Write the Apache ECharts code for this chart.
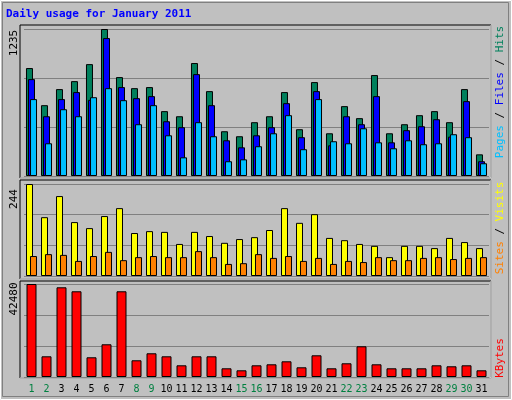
<!DOCTYPE html>
<html><head><meta charset="utf-8">
<script src="https://cdn.jsdelivr.net/npm/echarts@6/dist/echarts.min.js"></script>
<style>html,body{margin:0;padding:0;background:#c0c0c0}#c{width:512px;height:400px}</style>
</head><body><div id="c"></div>
<script>
const days = ['1','2','3','4','5','6','7','8','9','10','11','12','13','14','15','16','17','18','19','20','21','22','23','24','25','26','27','28','29','30','31'];
const weekends = ['1','2','8','9','15','16','22','23','29','30'];
const hits = [907,595,730,797,940,1235,831,738,747,545,502,949,713,376,334,452,502,705,393,789,359,587,486,848,359,435,511,545,452,730,182];
const files = [814,502,646,705,640,1159,747,654,671,460,410,856,595,300,241,342,410,612,326,713,258,502,435,671,283,385,418,477,331,629,124];
const pages = [646,275,561,502,662,738,637,435,595,342,157,452,334,124,140,250,359,511,225,646,292,275,401,283,233,300,267,275,351,326,107];
const visits = [244,156,212,143,127,159,180,114,119,117,85,117,106,88,98,103,122,180,141,164,101,95,85,80,50,80,80,74,101,90,74];
const sites = [53,58,56,40,53,64,42,50,53,50,50,66,50,32,34,58,48,53,40,48,32,40,37,50,42,42,48,50,45,48,50];
const kbytes = [42480,9450,40970,39150,9000,14940,39150,7630,10830,9450,5340,9450,9450,3970,3060,5340,5800,7170,4430,9910,3970,6260,14020,5800,3970,3970,3970,5340,4890,5340,3060];
const maxLabels = [1235,244,42480];

const F = 'DejaVu Sans Mono';
const ch = echarts.init(document.getElementById('c'));
const L = 24, W = 465;
const grids = [{left:L,width:W,top:29,height:147},{left:L,width:W,top:184,height:92},{left:L,width:W,top:284,height:93}];
function xa(i){return {type:'category',gridIndex:i,data:days,boundaryGap:true,axisLine:{show:false},axisTick:{show:false},
  axisLabel:{show:i===2,interval:0,margin:7,fontFamily:F,fontSize:10,color:v=>weekends.includes(v)?'#008040':'#000'}};}
function ya(i){return {type:'value',gridIndex:i,min:0,max:maxLabels[i],interval:maxLabels[i]/3,axisLabel:{show:false},axisLine:{show:false},axisTick:{show:false},
  splitLine:{show:true,lineStyle:{color:'#808080',width:1}}};}
const bs = c=>({color:c,borderColor:'#000',borderWidth:1});
function panel(y,h){return [{type:'rect',shape:{x:20,y:y,width:471,height:h},style:{fill:'#c0c0c0',stroke:'#000',lineWidth:1},z:-10,silent:true},
  {type:'polyline',shape:{points:[[20,y+h],[491,y+h],[491,y]]},style:{stroke:'#fff',lineWidth:1,fill:null},z:-9}];}
function vtext(x,y,parts){
  return {type:'text',x:x,y:y,rotation:Math.PI/2,z:10,style:{text:parts.map((p,k)=>'{s'+k+'|'+p[0]+'}').join(''),
    rich:Object.fromEntries(parts.map((p,k)=>['s'+k,{fill:p[1],fontFamily:F,fontSize:11}])),align:'center',verticalAlign:'middle'}};
}
ch.setOption({
  backgroundColor:'#c0c0c0',animation:false,
  grid:grids,
  xAxis:[xa(0),xa(1),xa(2)],
  yAxis:[ya(0),ya(1),ya(2)],
  series:[
    {type:'bar',xAxisIndex:0,yAxisIndex:0,data:hits,barWidth:7,barGap:'-71%',itemStyle:bs('#00805c')},
    {type:'bar',xAxisIndex:0,yAxisIndex:0,data:files,barWidth:7,barGap:'-71%',itemStyle:bs('#0000ff')},
    {type:'bar',xAxisIndex:0,yAxisIndex:0,data:pages,barWidth:7,barGap:'-71%',itemStyle:bs('#00c0ff')},
    {type:'bar',xAxisIndex:1,yAxisIndex:1,data:visits,barWidth:7,barGap:'-43%',itemStyle:bs('#ffff00')},
    {type:'bar',xAxisIndex:1,yAxisIndex:1,data:sites,barWidth:7,barGap:'-43%',itemStyle:bs('#ff8000')},
    {type:'bar',xAxisIndex:2,yAxisIndex:2,data:kbytes,barWidth:10,itemStyle:bs('#ff0000')}
  ],
  graphic:[
    {type:'rect',shape:{x:0.5,y:0.5,width:511,height:399},style:{fill:null,stroke:'#fff',lineWidth:1},z:-20},
    {type:'rect',shape:{x:2.5,y:2.5,width:506,height:394},style:{fill:null,stroke:'#808080',lineWidth:1},z:-20},
    ...panel(25,153),...panel(180,99),...panel(281,97),
    {type:'text',x:6,y:9,style:{text:'Daily usage for January 2011',fill:'#0000ff',fontFamily:F,fontWeight:'bold',fontSize:11}},
    {type:'text',x:14,y:43,rotation:Math.PI/2,style:{text:String(maxLabels[0]),fill:'#000',fontFamily:F,fontSize:11,align:'center',verticalAlign:'middle'}},
    {type:'text',x:14,y:199,rotation:Math.PI/2,style:{text:String(maxLabels[1]),fill:'#000',fontFamily:F,fontSize:11,align:'center',verticalAlign:'middle'}},
    {type:'text',x:14,y:299,rotation:Math.PI/2,style:{text:String(maxLabels[2]),fill:'#000',fontFamily:F,fontSize:11,align:'center',verticalAlign:'middle'}},
    vtext(500,92,[['Pages','#00c0ff'],[' / ','#000'],['Files','#0000ff'],[' / ','#000'],['Hits','#00805c']]),
    vtext(500,228,[['Sites','#ff8000'],[' / ','#000'],['Visits','#ffff00']]),
    vtext(500,358,[['KBytes','#ff0000']])
  ]
});
</script></body></html>
